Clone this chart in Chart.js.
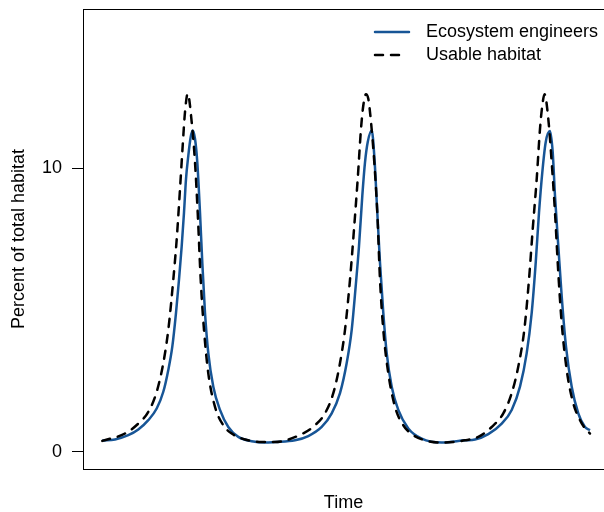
<!DOCTYPE html>
<html>
<head>
<meta charset="utf-8">
<script src="https://cdn.jsdelivr.net/npm/chart.js@4.4.1/dist/chart.umd.min.js"></script>
<style>
  html, body { margin: 0; padding: 0; background: #fff; overflow: hidden; }
  canvas { display: block; }
</style>
</head>
<body>
<canvas id="chart" width="604" height="512"></canvas>
<script>
// values (time in arbitrary units)
const engineerTime = [0.3, 13, 26.3, 36.3, 46.3, 54.7, 61.3, 66.3, 70.3, 74, 77, 79.7, 82, 84, 86.3, 88.7, 90.7, 93, 95.3, 98, 100.3, 103, 106.3, 111.3, 118, 126.3, 136.3, 149.7, 163,
  173, 193, 206.3, 219.7, 229.7, 238, 244.7, 249.7, 253.7, 257, 260.3, 263, 265.7, 269.7, 272.3, 275.3, 278, 281.3, 284.7, 289.7, 296.3, 306.3, 319.7, 339.7,
  363, 373, 386.3, 399.7, 409.7, 418, 424.7, 429.7, 433.7, 437, 440.3, 443.7, 448, 450.7, 453, 456.3, 459.7, 464, 469.7, 476.3, 483, 488];
const engineerPct = [0.40, 0.44, 0.59, 0.79, 1.12, 1.53, 2.12, 2.89, 3.71, 4.90, 6.07, 7.25, 8.43, 9.61, 10.43, 11.09, 11.32, 11.03, 10.20, 8.43, 6.66, 4.90, 3.48, 2.30, 1.48, 0.88, 0.53, 0.38, 0.33,
  0.35, 0.41, 0.56, 0.88, 1.36, 2.07, 3.13, 4.30, 5.84, 7.25, 9.02, 10.20, 10.91, 11.32, 10.43, 8.43, 6.66, 4.90, 3.48, 2.30, 1.48, 0.83, 0.47, 0.33,
  0.41, 0.44, 0.63, 1.00, 1.48, 2.30, 3.48, 4.90, 6.66, 8.43, 9.85, 10.91, 11.30, 10.56, 9.02, 7.25, 5.48, 3.71, 2.30, 1.36, 0.88, 0.77];

const habitatTime = [0.3, 23, 36.3, 46.3, 54.7, 61.3, 66.3, 71.3, 74.7, 78, 80.7, 83, 85.7, 89.7, 93, 95.7, 98.7, 102, 106.3, 113, 121.3, 129.7, 143, 159.7,
  173, 199.7, 213, 223, 231.3, 238, 243, 248, 252, 255.7, 259, 261.3, 264, 266.3, 269, 272.3, 275.3, 278, 281.3, 286.3, 293, 301.3, 309.7, 323, 339.7,
  363, 376.3, 389.7, 401.3, 409.7, 416.3, 422.3, 427, 430.7, 434.7, 438, 440.3, 442.5, 446.3, 449.7, 453, 456.3, 459.7, 464.7, 471.3, 478, 483, 488];
const habitatPct = [0.39, 0.65, 1.00, 1.41, 2.12, 3.13, 4.30, 6.07, 7.49, 9.26, 10.79, 11.97, 12.62, 11.62, 10.20, 8.43, 6.07, 4.30, 2.77, 1.59, 0.94, 0.65, 0.44, 0.35,
  0.35, 0.63, 0.94, 1.36, 2.07, 3.13, 4.30, 6.07, 7.84, 9.61, 11.38, 12.20, 12.60, 12.44, 11.62, 10.20, 8.43, 6.07, 4.30, 2.77, 1.59, 0.94, 0.63, 0.41, 0.33,
  0.41, 0.53, 0.88, 1.36, 2.07, 3.01, 4.30, 6.07, 7.84, 9.61, 11.38, 12.20, 12.60, 11.73, 10.20, 8.43, 6.31, 4.54, 2.89, 1.71, 1.12, 0.83, 0.65];

const yTicks = [0, 10];
const seriesLabels = ["Ecosystem engineers", "Usable habitat"];

const FONT = "'Liberation Sans', Arial, Helvetica, sans-serif";
Chart.defaults.font.family = FONT;
Chart.defaults.color = "#000";

function points(xs, ys) {
  return xs.map((x, i) => ({ x: x, y: ys[i] }));
}

// R-style legend drawn inside the plot, top right
const insideLegend = {
  id: "insideLegend",
  afterDatasetsDraw(chart) {
    const ctx = chart.ctx;
    const rows = [32, 55];
    chart.data.datasets.forEach((ds, i) => {
      const y = rows[i];
      ctx.save();
      ctx.strokeStyle = ds.borderColor;
      ctx.lineWidth = ds.borderWidth;
      ctx.lineCap = "round";
      ctx.setLineDash(ds.borderDash || []);
      ctx.beginPath();
      ctx.moveTo(375, y);
      ctx.lineTo(ds.borderDash ? 401 : 409, y);
      ctx.stroke();
      ctx.setLineDash([]);
      ctx.fillStyle = "#000";
      ctx.font = "18px " + FONT;
      ctx.textAlign = "left";
      ctx.textBaseline = "middle";
      ctx.fillText(ds.label, 426, y);
      ctx.restore();
    });
  },
};

new Chart(document.getElementById("chart"), {
  type: "line",
  data: {
    datasets: [
      {
        label: seriesLabels[0],
        data: points(engineerTime, engineerPct),
        borderColor: "#175596",
        borderWidth: 2.5,
        pointRadius: 0,
        cubicInterpolationMode: "monotone",
        order: 1,
      },
      {
        label: seriesLabels[1],
        data: points(habitatTime, habitatPct),
        borderColor: "#000",
        borderWidth: 2.5,
        borderDash: [8, 8],
        borderCapStyle: "round",
        pointRadius: 0,
        cubicInterpolationMode: "monotone",
        order: 0,
      },
    ],
  },
  options: {
    responsive: false,
    animation: false,
    layout: { padding: { top: 9, right: 0, bottom: 0, left: 0 } },
    plugins: { legend: { display: false }, tooltip: { enabled: false } },
    scales: {
      x: {
        type: "linear",
        position: "bottom",
        min: -19,
        max: 502,
        grid: { display: false },
        ticks: { display: false },
        border: { display: true, color: "#000", width: 1 },
        title: { display: true, text: "Time", color: "#000", font: { size: 18, lineHeight: 1 }, padding: { top: 0, bottom: 0 } },
        afterFit: s => { s.height = 43; s.paddingLeft = 0; s.paddingRight = 0; },
      },
      xTop: {
        type: "linear",
        position: "top",
        min: -19,
        max: 502,
        grid: { display: false },
        ticks: { display: false },
        border: { display: true, color: "#000", width: 1 },
        afterFit: s => { s.height = 0; s.paddingLeft = 0; s.paddingRight = 0; },
      },
      y: {
        min: -0.6,
        max: 15.6,
        afterBuildTicks: s => { s.ticks = yTicks.map(v => ({ value: v })); },
        grid: { display: true, drawOnChartArea: false, drawTicks: true, tickLength: 11, color: "#000", lineWidth: 1 },
        border: { display: true, color: "#000", width: 1 },
        ticks: { color: "#000", font: { size: 18 }, padding: 10 },
        title: { display: true, text: "Percent of total habitat", color: "#000", font: { size: 18, lineHeight: 1 }, padding: { top: 10, bottom: 0 } },
        afterFit: s => { s.width = 83; s.paddingTop = 0; s.paddingBottom = 0; },
      },
    },
  },
  plugins: [insideLegend],
});
</script>
</body>
</html>
